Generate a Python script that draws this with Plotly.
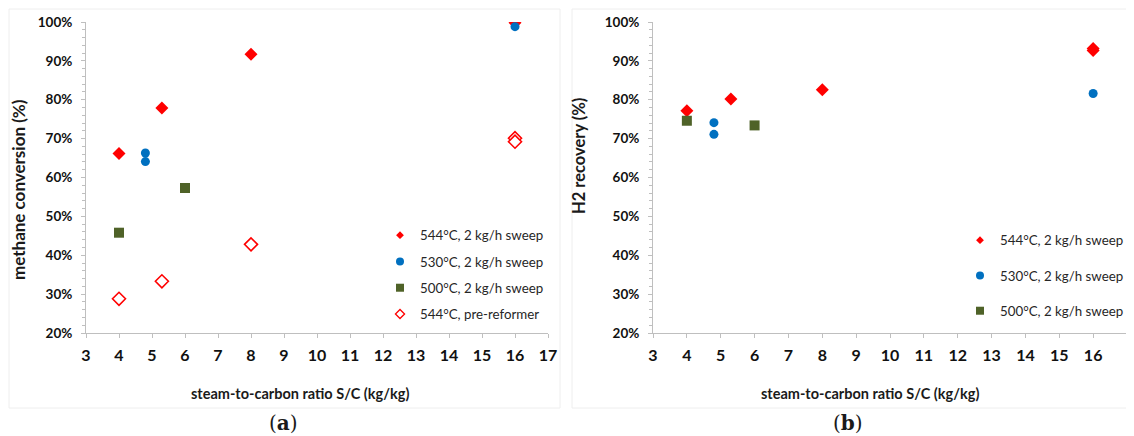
import plotly.graph_objects as go

# The page body has an 8 px margin, so the figure starts 8 px in; it is sized
# to reach the window's right and bottom edges, and reference pixel
# positions are shifted by that offset.
OFF = 8
W, H = 1134 - OFF, 436 - OFF

# ---- data: panel (a) methane conversion ----
a_544_x = [4, 5.3, 8, 16]
a_544_y = [0.662, 0.779, 0.917, 0.998]
a_530_x = [4.8, 4.8, 16]
a_530_y = [0.663, 0.641, 0.988]
a_500_x = [4, 6]
a_500_y = [0.458, 0.573]
a_pre_x = [4, 5.3, 8, 16, 16]
a_pre_y = [0.288, 0.333, 0.428, 0.701, 0.692]

# ---- data: panel (b) H2 recovery ----
b_544_x = [4, 5.3, 8, 16, 16]
b_544_y = [0.772, 0.802, 0.826, 0.932, 0.927]
b_530_x = [4.8, 4.8, 16]
b_530_y = [0.741, 0.711, 0.816]
b_500_x = [4, 6]
b_500_y = [0.746, 0.734]

names = ["544°C, 2 kg/h sweep", "530°C, 2 kg/h sweep", "500°C, 2 kg/h sweep", "544°C, pre-reformer"]

RED = "#ff0000"
BLUE = "#0070c0"
GREEN = "#4f6228"

def px2x(p):
    return (p - OFF) / W

def px2y(p):
    return 1 - (p - OFF) / H

def clamp(v):
    return max(0.0, min(1.0, v))

fig = go.Figure()

def add_marks(x, y, xa, ya, symbol, size, color, open_=False):
    fig.add_trace(go.Scatter(
        x=x, y=y, mode="markers", xaxis=xa, yaxis=ya, showlegend=False,
        marker=dict(symbol=symbol, size=size,
                    color="white" if open_ else color,
                    line=dict(color=color, width=1.6 if open_ else 0)),
        hoverinfo="x+y"))

def add_legend(name, legend, symbol, size, color, open_=False, group=None):
    fig.add_trace(go.Scatter(
        x=[None], y=[None], mode="markers", name=name, legend=legend,
        legendgroup=group, xaxis="x", yaxis="y",
        marker=dict(symbol=symbol, size=size,
                    color="white" if open_ else color,
                    line=dict(color=color, width=1.3 if open_ else 0))))

# panel (a)
add_marks(a_544_x, a_544_y, "x", "y", "diamond", 10, RED)
add_marks(a_530_x, a_530_y, "x", "y", "circle", 9, BLUE)
add_marks(a_500_x, a_500_y, "x", "y", "square", 10, GREEN)
add_marks(a_pre_x, a_pre_y, "x", "y", "diamond", 10, RED, open_=True)
# panel (b)
add_marks(b_544_x, b_544_y, "x2", "y2", "diamond", 10, RED)
add_marks(b_530_x, b_530_y, "x2", "y2", "circle", 9, BLUE)
add_marks(b_500_x, b_500_y, "x2", "y2", "square", 10, GREEN)

# legend entries
add_legend(names[0], "legend", "diamond", 6, RED, group="a1")
add_legend(names[1], "legend", "circle", 8, BLUE, group="a2")
add_legend(names[2], "legend", "square", 8, GREEN, group="a3")
add_legend(names[3], "legend", "diamond", 7, RED, open_=True, group="a4")
add_legend(names[0], "legend2", "diamond", 6, RED, group="b1")
add_legend(names[1], "legend2", "circle", 8, BLUE, group="b2")
add_legend(names[2], "legend2", "square", 8, GREEN, group="b3")

FONT = "Lato"
AXC = "#bfbfbf"

def xaxis_cfg(domain):
    return dict(domain=[clamp(d) for d in domain], range=[3, 17], dtick=1, tick0=3, automargin=False,
                showgrid=False, zeroline=False, showline=True, linecolor=AXC, linewidth=1,
                ticks="outside", ticklen=4, tickcolor=AXC, ticklabelstandoff=4,
                tickfont=dict(family=FONT, size=16, color="#111111", weight="bold"),
                fixedrange=True)

def yaxis_cfg(domain, anchor):
    return dict(domain=[clamp(d) for d in domain], range=[0.2, 1.0], dtick=0.1, tick0=0.2, tickformat=".0%",
                anchor=anchor, automargin=False,
                showgrid=False, zeroline=False, showline=True, linecolor=AXC, linewidth=1,
                ticks="outside", ticklen=4, tickcolor=AXC, ticklabelstandoff=6,
                minor=dict(dtick=0.02, ticks="outside", ticklen=3, tickcolor=AXC),
                tickfont=dict(family=FONT, size=13.5, color="#111111", weight="bold"),
                fixedrange=True)

ydom = [px2y(333), px2y(22)]
fig.update_layout(
    width=W, height=H, margin=dict(l=0, r=0, t=0, b=0),
    paper_bgcolor="white", plot_bgcolor="white",
    xaxis=dict(**xaxis_cfg([px2x(86), px2x(548)]), anchor="y"),
    yaxis=yaxis_cfg(ydom, "x"),
    xaxis2=dict(**xaxis_cfg([px2x(653), px2x(1127)]), anchor="y2"),
    yaxis2=yaxis_cfg(ydom, "x2"),
    legend=dict(x=px2x(380), y=px2y(220), xanchor="left", yanchor="top",
                bgcolor="rgba(0,0,0,0)", traceorder="grouped", tracegroupgap=6,
                itemwidth=30, font=dict(family=FONT, size=13.3, color="#262626")),
    legend2=dict(x=px2x(960), y=px2y(225), xanchor="left", yanchor="top",
                 bgcolor="rgba(0,0,0,0)", traceorder="grouped", tracegroupgap=15,
                 itemwidth=30, font=dict(family=FONT, size=13.3, color="#262626")),
    showlegend=True,
)

# faint chart borders
for x0, x1 in [(9, 560), (572, 1133)]:
    fig.add_shape(type="rect", xref="paper", yref="paper",
                  x0=px2x(x0), x1=px2x(x1), y0=px2y(408), y1=px2y(9),
                  line=dict(color="#eeeeee", width=1), layer="below")

ann = [
    dict(text="<b>methane conversion (%)</b>", x=px2x(18), y=px2y(190), textangle=-90, size=17, family=FONT),
    dict(text="<b>H2 recovery (%)</b>", x=px2x(579), y=px2y(156), textangle=-90, size=16.5, family=FONT),
    dict(text="<b>steam-to-carbon ratio S/C (kg/kg)</b>", x=px2x(300), y=px2y(393), textangle=0, size=14.5, family=FONT),
    dict(text="<b>steam-to-carbon ratio S/C (kg/kg)</b>", x=px2x(870), y=px2y(393), textangle=0, size=14.5, family=FONT),
    dict(text="(<b>a</b>)", x=px2x(283), y=px2y(423), textangle=0, size=20, family="DejaVu Serif"),
    dict(text="(<b>b</b>)", x=px2x(848), y=px2y(423), textangle=0, size=20, family="DejaVu Serif"),
]
for a in ann:
    fig.add_annotation(text=a["text"], x=a["x"], y=a["y"], xref="paper", yref="paper",
                       showarrow=False, textangle=a["textangle"], xanchor="center", yanchor="middle",
                       font=dict(family=a["family"], size=a["size"], color="#1a1a1a"))

fig.write_html("out.html")
